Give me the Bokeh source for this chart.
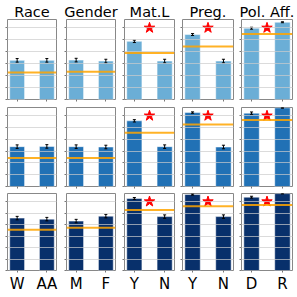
from bokeh.plotting import figure
from bokeh.layouts import column, row
from bokeh.models import Span, FixedTicker, Range1d
from bokeh.embed import file_html
from bokeh.resources import INLINE

titles = ["Race", "Gender", "Mat.L", "Preg.", "Pol. Aff."]
group_labels = [["W", "AA"], ["M", "F"], ["Y", "N"], ["Y", "N"], ["D", "R"]]
row_colors = ["#6baed6", "#2171b5", "#08306b"]

vals_row1 = [[0.328, 0.328], [0.330, 0.322], [0.487, 0.322], [0.544, 0.322], [0.597, 0.647]]
err_row1 = [[0.015, 0.015], [0.015, 0.015], [0.010, 0.015], [0.008, 0.015], [0.008, 0.004]]
base_row1 = [0.227, 0.233, 0.389, 0.443, 0.549]

vals_row2 = [[0.338, 0.340], [0.338, 0.335], [0.557, 0.338], [0.627, 0.335], [0.622, 0.667]]
err_row2 = [[0.015, 0.015], [0.015, 0.015], [0.010, 0.015], [0.006, 0.015], [0.010, 0.003]]
base_row2 = [0.242, 0.242, 0.456, 0.526, 0.565]

vals_row3 = [[0.456, 0.447], [0.430, 0.473], [0.627, 0.469], [0.661, 0.469], [0.638, 0.669]]
err_row3 = [[0.015, 0.015], [0.015, 0.015], [0.008, 0.015], [0.005, 0.015], [0.008, 0.003]]
base_row3 = [0.354, 0.371, 0.526, 0.560, 0.570]

significant = [False, False, True, True, True]
star_level = 0.6
grid_ticks = [0.1, 0.2, 0.3, 0.4, 0.5, 0.6]
y_ticks = [0.0, 0.1, 0.2, 0.3, 0.4, 0.5, 0.6]
y_max = 0.67

all_vals = [vals_row1, vals_row2, vals_row3]
all_errs = [err_row1, err_row2, err_row3]
all_base = [base_row1, base_row2, base_row3]

# layout (pixels)
left_b = [7, 5, 5, 4, 4]
frame_w = [49, 49, 50, 51, 51]
right_b = [5, 4, 4, 4, 3]
top_b = [19, 4, 4]
frame_h = [80, 79, 80]
bottom_b = [4, 3, 22]
FONT = "DejaVu Sans"


def make(r, c):
    p = figure(width=left_b[c] + frame_w[c] + right_b[c],
               height=top_b[r] + frame_h[r] + bottom_b[r],
               x_range=Range1d(-0.325, 1.325), y_range=Range1d(0, y_max),
               output_backend="svg", toolbar_location=None,
               title=titles[c] if r == 0 else None,
               min_border_left=left_b[c], min_border_right=right_b[c],
               min_border_top=top_b[r], min_border_bottom=bottom_b[r])
    if r == 0:
        p.title.align = "center"
        p.title.text_font_size = "14.5px"
        p.title.text_font_style = "normal"
        p.title.text_font = FONT
        p.title.text_color = "black"
        p.title.standoff = 0
        p.title.offset = 0
    xs = [0, 1]
    v = all_vals[r][c]
    e = all_errs[r][c]
    p.vbar(x=xs, top=v, width=0.5, fill_color=row_colors[r],
           line_color="white", line_alpha=0.5, line_width=1)
    lo = [a - b for a, b in zip(v, e)]
    hi = [a + b for a, b in zip(v, e)]
    p.segment(x0=xs, y0=lo, x1=xs, y1=hi, line_color="black", line_width=1)
    p.segment(x0=[x - 0.05 for x in xs], y0=lo, x1=[x + 0.05 for x in xs], y1=lo,
              line_color="black", line_width=1)
    p.segment(x0=[x - 0.05 for x in xs], y0=hi, x1=[x + 0.05 for x in xs], y1=hi,
              line_color="black", line_width=1)
    p.add_layout(Span(location=all_base[r][c], dimension="width",
                      line_color="orange", line_width=2, line_alpha=0.85))
    if significant[c]:
        p.scatter(x=[0.5], y=[star_level], marker="star", size=11,
                  fill_color="red", line_color="red")
    p.xgrid.visible = False
    p.ygrid.ticker = FixedTicker(ticks=grid_ticks)
    p.ygrid.grid_line_color = "#cccccc"
    p.ygrid.grid_line_alpha = 0.7
    p.ygrid.level = "guide"
    # y axis: tick marks only
    p.yaxis.ticker = FixedTicker(ticks=y_ticks)
    p.yaxis.axis_line_color = None
    p.yaxis.major_tick_out = 2
    p.yaxis.major_tick_in = 0
    p.yaxis.major_tick_line_color = "#777777"
    p.yaxis.minor_tick_line_color = None
    p.yaxis.major_label_text_font_size = "0px"
    p.yaxis.major_label_text_color = None
    p.yaxis.major_label_standoff = 0
    # x axis
    p.xaxis.ticker = FixedTicker(ticks=xs)
    p.xaxis.major_label_overrides = {0: group_labels[c][0], 1: group_labels[c][1]}
    p.xaxis.axis_line_color = None
    p.xaxis.major_tick_out = 2
    p.xaxis.major_tick_in = 0
    p.xaxis.major_tick_line_color = "#777777"
    p.xaxis.minor_tick_line_color = None
    if r < 2:
        p.xaxis.major_label_text_font_size = "0px"
        p.xaxis.major_label_text_color = None
        p.xaxis.major_label_standoff = 0
    else:
        p.xaxis.major_label_text_font_size = "15px"
        p.xaxis.major_label_text_font = FONT
        p.xaxis.major_label_text_color = "black"
        p.xaxis.major_label_standoff = 2
    p.outline_line_color = "#888888"
    p.outline_line_width = 1
    p.background_fill_color = "white"
    p.border_fill_color = "white"
    return p


rows = [row([make(r, c) for c in range(5)], spacing=0) for r in range(3)]
layout = column(rows, spacing=0)
open("out.html", "w").write(file_html(layout, INLINE))
